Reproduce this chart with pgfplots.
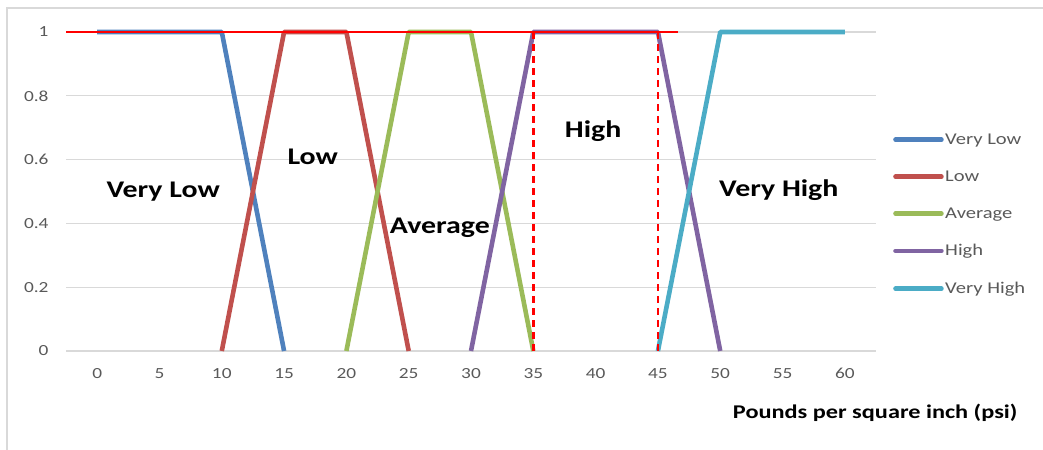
\documentclass[border=0pt]{standalone}
\usepackage{pgfplots}
\pgfplotsset{compat=1.18}
\usepackage{fontspec}
\setmainfont{Carlito}[FakeStretch=1.25]
\definecolor{cVL}{HTML}{4F81BD}
\definecolor{cL}{HTML}{C0504D}
\definecolor{cA}{HTML}{9BBB59}
\definecolor{cH}{HTML}{8064A2}
\definecolor{cVH}{HTML}{4BACC6}
\definecolor{gridc}{HTML}{D9D9D9}
\definecolor{tickc}{HTML}{595959}
\begin{document}
\begin{tikzpicture}[x=1bp,y=1bp]
\path[use as bounding box] (0,0) rectangle (1043,450);
\draw[gridc, line width=1.5bp] (7,0) -- (7,442) -- (1043,442);
\begin{axis}[
  at={(66bp,99bp)}, anchor=south west,
  scale only axis, width=810bp, height=319bp,
  xmin=-2.5, xmax=62.5, ymin=0, ymax=1,
  xtick={0,5,...,60}, ytick={0,0.2,...,1},
  yticklabels={0,0.2,0.4,0.6,0.8,1},
  axis line style={draw=none},
  major tick length=0pt,
  ymajorgrids, grid style={gridc, line width=1.3bp},
  tick label style={font=\fontsize{15.5}{18}\selectfont, text=tickc},
  /pgf/number format/assume math mode=true,
  xticklabel style={yshift=-14bp},
  yticklabel style={xshift=-14bp},
  clip=false,
  xlabel={\textbf{Pounds per square inch (psi)}},
  xlabel style={font=\fontsize{19.5}{22}\selectfont, at={(axis description cs:0.999,-0.194)}, anchor=center},
  legend style={draw=none, fill=none, font=\fontsize{16.5}{19}\selectfont, text=tickc,
    at={(axis description cs:1.021,0.688)}, anchor=north west, inner sep=0pt,
    row sep=20.9bp, nodes={inner xsep=1.5bp}},
  legend cell align=left,
  legend image code/.code={\draw[#1, line width=4.5bp, line cap=round] (0bp,0bp) -- (46bp,0bp);},
  every axis plot/.append style={line width=4.6bp, line join=round},
]
\addplot[cVL] coordinates {(0,1) (10,1) (15,0)};
\addlegendentry{Very Low}
\addplot[cL] coordinates {(10,0) (15,1) (20,1) (25,0)};
\addlegendentry{Low}
\addplot[cA] coordinates {(20,0) (25,1) (30,1) (35,0)};
\addlegendentry{Average}
\addplot[cH] coordinates {(30,0) (35,1) (45,1) (50,0)};
\addlegendentry{High}
\addplot[cVH] coordinates {(45,0) (50,1) (60,1)};
\addlegendentry{Very High}
\addplot[red, line width=2.5bp, forget plot] coordinates {(-2.5,1) (46.6,1)};
\addplot[red, line width=2.5bp, dash pattern=on 7bp off 5bp, forget plot] coordinates {(35,0) (35,1)};
\addplot[red, line width=2.5bp, dash pattern=on 7bp off 5bp, forget plot] coordinates {(45,0) (45,1)};
\node[font=\bfseries\fontsize{24}{28}\selectfont] at (axis cs:5.3,0.50) {Very Low};
\node[font=\bfseries\fontsize{24}{28}\selectfont] at (axis cs:17.3,0.61) {Low};
\node[font=\bfseries\fontsize{24}{28}\selectfont] at (axis cs:27.5,0.385) {Average};
\node[font=\bfseries\fontsize{24}{28}\selectfont] at (axis cs:39.8,0.69) {High};
\node[font=\bfseries\fontsize{24}{28}\selectfont] at (axis cs:54.7,0.505) {Very High};
\end{axis}
\end{tikzpicture}
\end{document}
